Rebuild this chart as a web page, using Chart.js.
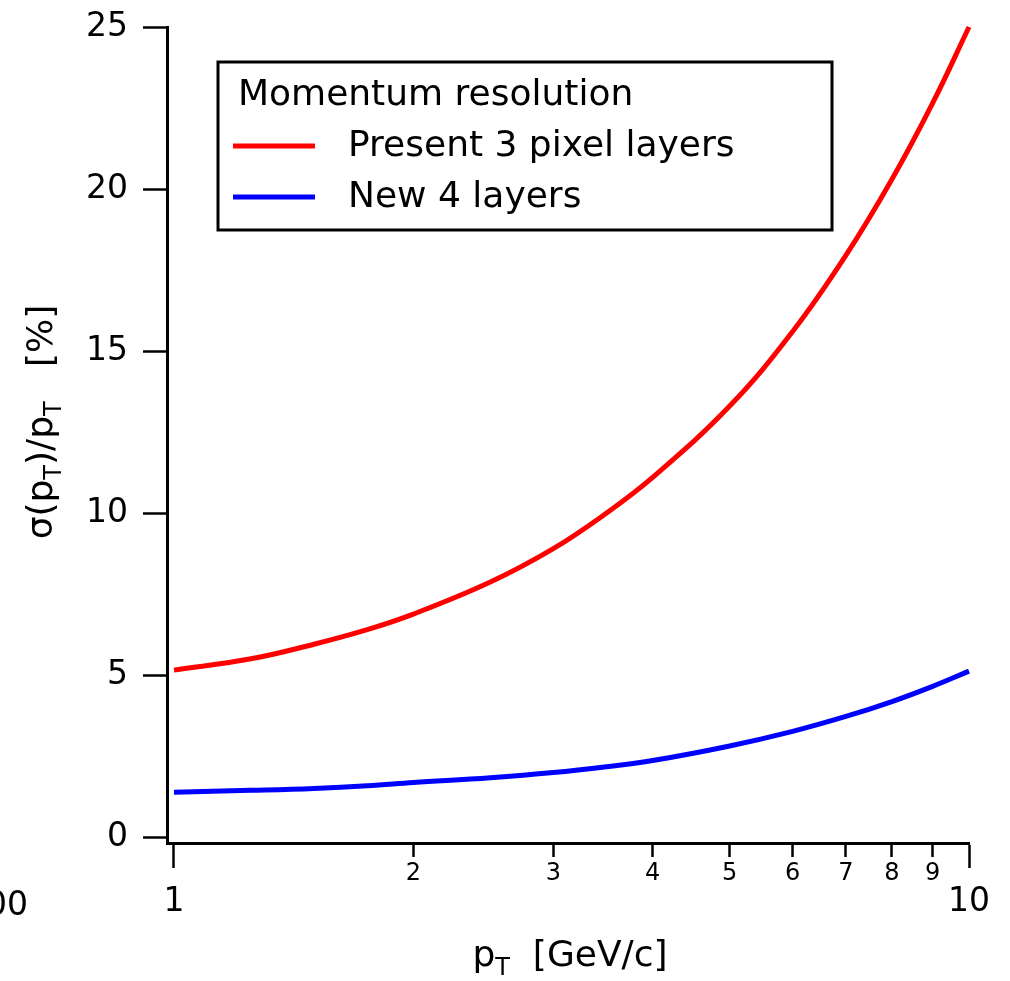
<!DOCTYPE html>
<html>
<head>
<meta charset="utf-8">
<script src="https://cdn.jsdelivr.net/npm/chart.js@4.4.1/dist/chart.umd.min.js"></script>
<style>
  html, body { margin: 0; padding: 0; background: #fff; }
  canvas { display: block; }
</style>
</head>
<body>
<canvas id="res" width="1010" height="981"></canvas>
<script>
// transverse momentum samples [GeV/c] and relative resolution [%]
const pt = [1, 1.25, 1.5, 1.75, 2, 2.5, 3, 3.5, 4, 5, 6, 7, 8, 9, 10];
const present3 = [5.15, 5.5, 5.95, 6.4, 6.88, 7.87, 8.9, 10.0, 11.1, 13.3, 15.6, 17.95, 20.3, 22.65, 25.0];
const new4 = [1.38, 1.44, 1.5, 1.58, 1.68, 1.83, 1.99, 2.17, 2.36, 2.81, 3.26, 3.72, 4.18, 4.65, 5.12];
const seriesNames = ['Present 3 pixel layers', 'New 4 layers'];
const legendTitle = 'Momentum resolution';
const xTicks = [1, 2, 3, 4, 5, 6, 7, 8, 9, 10];
const yTicks = [0, 5, 10, 15, 20, 25];

const FONT = '"DejaVu Sans", sans-serif';

// text with subscripts: parts = [[text, isSub], ...]
function richWidth(ctx, parts, size) {
    let w = 0;
    parts.forEach(([t, sub]) => {
        ctx.font = (sub ? Math.round(size * 0.66) : size) + 'px ' + FONT;
        w += ctx.measureText(t).width;
    });
    return w;
}
function drawRich(ctx, parts, x, y, size) {
    let cx = x - richWidth(ctx, parts, size) / 2;
    parts.forEach(([t, sub]) => {
        ctx.font = (sub ? Math.round(size * 0.66) : size) + 'px ' + FONT;
        ctx.fillText(t, cx, sub ? y + size * 0.24 : y);
        cx += ctx.measureText(t).width;
    });
}

const decorations = {
    id: 'decorations',
    afterDraw(chart) {
        const ctx = chart.ctx;
        ctx.save();
        ctx.fillStyle = '#000';
        ctx.textBaseline = 'alphabetic';
        ctx.textAlign = 'left';

        // axis titles
        drawRich(ctx, [['p', false], ['T', true], ['  [GeV/c]', false]], 570, 966, 36);
        ctx.save();
        ctx.translate(52, 422);
        ctx.rotate(-Math.PI / 2);
        drawRich(ctx, [['σ(p', false], ['T', true], [')/p', false], ['T', true], ['   [%]', false]], 0, 0, 36);
        ctx.restore();

        // cut-off label of the neighbouring panel
        ctx.font = '33px ' + FONT;
        ctx.textAlign = 'right';
        ctx.fillText('100', 28, 915);
        ctx.textAlign = 'left';

        // legend box
        ctx.lineWidth = 3;
        ctx.strokeStyle = '#000';
        ctx.strokeRect(218, 62, 614, 168);
        ctx.font = '36px ' + FONT;
        ctx.textBaseline = 'middle';
        ctx.fillText(legendTitle, 238, 96);
        chart.data.datasets.forEach((ds, i) => {
            const y = 146 + i * 51;
            ctx.strokeStyle = ds.borderColor;
            ctx.lineWidth = 5;
            ctx.beginPath();
            ctx.moveTo(233, y);
            ctx.lineTo(315, y);
            ctx.stroke();
            ctx.fillStyle = '#000';
            ctx.fillText(ds.label, 348, y + 1);
        });
        ctx.restore();
    }
};

const toPoints = vals => pt.map((p, i) => ({ x: p, y: vals[i] }));
const isMajor = c => c.tick && (c.tick.value === 1 || c.tick.value === 10);

new Chart(document.getElementById('res'), {
    type: 'line',
    data: {
        datasets: [
            { label: seriesNames[0], data: toPoints(present3), borderColor: '#ff0000', borderWidth: 5,
              pointRadius: 0, tension: 0.4, clip: false },
            { label: seriesNames[1], data: toPoints(new4), borderColor: '#0000ff', borderWidth: 5,
              pointRadius: 0, tension: 0.4, clip: false }
        ]
    },
    options: {
        responsive: false,
        animation: false,
        devicePixelRatio: 1,
        layout: { padding: { left: 0, top: 27, right: 41, bottom: 0 } },
        plugins: { legend: { display: false }, tooltip: { enabled: false } },
        scales: {
            x: {
                type: 'logarithmic',
                min: 0.98, max: 10,
                afterBuildTicks: s => { s.ticks = xTicks.map(v => ({ value: v })); },
                afterFit: s => { s.height = 138; },
                border: { display: true, color: '#000', width: 3 },
                grid: {
                    drawOnChartArea: false, tickLength: 25, tickWidth: 2.5, tickColor: '#000',
                    tickBorderDash: c => isMajor(c) ? [] : [12, 40]
                },
                ticks: {
                    autoSkip: false, maxRotation: 0, padding: 0, color: '#000',
                    callback: v => String(v),
                    font: c => isMajor(c)
                        ? { family: FONT, size: 33, lineHeight: 2.09 }
                        : { family: FONT, size: 24, lineHeight: 0.46 }
                }
            },
            y: {
                min: -0.185, max: 25,
                afterBuildTicks: s => { s.ticks = yTicks.map(v => ({ value: v })); },
                afterFit: s => { s.width = 167; s.paddingTop = 0; s.paddingBottom = 0; },
                border: { display: true, color: '#000', width: 3 },
                grid: { drawOnChartArea: false, tickLength: 24, tickWidth: 2.5, tickColor: '#000' },
                ticks: { padding: 15, color: '#000', font: { family: FONT, size: 33 } }
            }
        }
    },
    plugins: [decorations]
});
</script>
</body>
</html>
